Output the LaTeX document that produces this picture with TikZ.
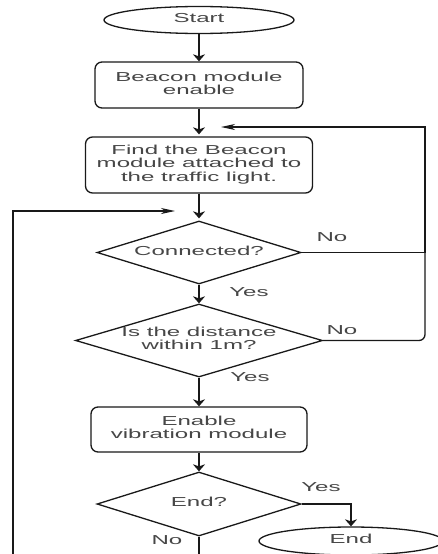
\documentclass[tikz,border=0pt]{standalone}
\usepackage{fontspec}
\setmainfont{Liberation Sans}
\usepackage{graphicx}
\usetikzlibrary{shapes.geometric,arrows.meta}
\newcommand\stretchtxt[1]{\scalebox{1.85}[1]{\begin{tabular}{@{}c@{}}#1\end{tabular}}}
\tikzset{
 base/.style={draw=black!90, line width=1.3pt, text=black!72, font=\fontsize{13}{12.9}\selectfont, inner sep=0pt},
 term/.style={base, ellipse, minimum width=190pt, minimum height=27pt},
 proc/.style={base, rectangle, rounded corners=7pt},
 dec/.style={base, diamond},
 lab/.style={text=black!72, font=\fontsize{13}{12.9}\selectfont, inner sep=0pt},
 conn/.style={draw=black!90, line width=1.3pt},
 varr/.style={conn, -{Stealth[length=7pt,width=12pt,inset=2pt]}},
 harr/.style={conn, -{Stealth[length=14pt,width=6pt,inset=4pt]}},
}
\begin{document}
\begin{tikzpicture}[x=1pt,y=-1pt]
\clip (0,0) rectangle (438,554);
\fill[white] (0,0) rectangle (438,554);
\node[term] (start) at (199,20) {\stretchtxt{Start}};
\node[proc, minimum width=208pt, minimum height=46pt] (beacon) at (199,85) {\stretchtxt{Beacon module\\enable}};
\node[proc, minimum width=227pt, minimum height=56pt] (find) at (199,165) {\stretchtxt{Find the Beacon\\module attached to\\the traffic light.}};
\node[dec, minimum width=204pt, minimum height=63pt, shape aspect=3.24] (conn) at (199,252.5) {\stretchtxt{Connected?}};
\node[dec, minimum width=247pt, minimum height=73pt, shape aspect=3.38] (dist) at (199,340.5) {\stretchtxt{Is the distance\\within 1m?}};
\node[proc, minimum width=216pt, minimum height=45pt] (vib) at (199,429.5) {\stretchtxt{Enable\\vibration module}};
\node[dec, minimum width=204pt, minimum height=64pt, shape aspect=3.2] (endq) at (199,504) {\stretchtxt{End?}};
\node[term, minimum width=184pt, minimum height=28pt] (end) at (351,541) {\stretchtxt{End}};

\coordinate (fb) at (221,127);
\coordinate (rt) at (425,127);
\coordinate (rb) at (425,340.5);
\coordinate (lp) at (175,211);
\coordinate (lt) at (13,211);
\coordinate (lb) at (13,556);
\coordinate (nb) at (199,556);

\draw[varr] (start) -- (beacon);
\draw[varr] (beacon.south) -- ([yshift=2pt]find.north);
\draw[varr] (find.south) -- ([yshift=2pt]conn.north);
\draw[varr] (conn.south) -- (dist.north);
\draw[varr] (dist.south) -- (vib.north);
\draw[varr] (vib.south) -- (endq.north);
\draw[varr] (endq.east) -| (end.north);
\draw[conn] (endq.south) -- (nb);
\draw[harr] (lb) -- (lt) -- (lp);
\draw[harr] (conn.east) -| (rt) -- (fb);
\draw[conn, rounded corners=6pt] (dist.east) -- (rb) -- (conn.east -| rt);

\node[lab] (no1) at (332,239) {\stretchtxt{No}};
\node[lab] (yes1) at (249,294) {\stretchtxt{Yes}};
\node[lab] (no2) at (342,332) {\stretchtxt{No}};
\node[lab] (yes2) at (250,379) {\stretchtxt{Yes}};
\node[lab] (yes3) at (321,489) {\stretchtxt{Yes}};
\node[lab] (no3) at (167,542) {\stretchtxt{No}};
\end{tikzpicture}
\end{document}
